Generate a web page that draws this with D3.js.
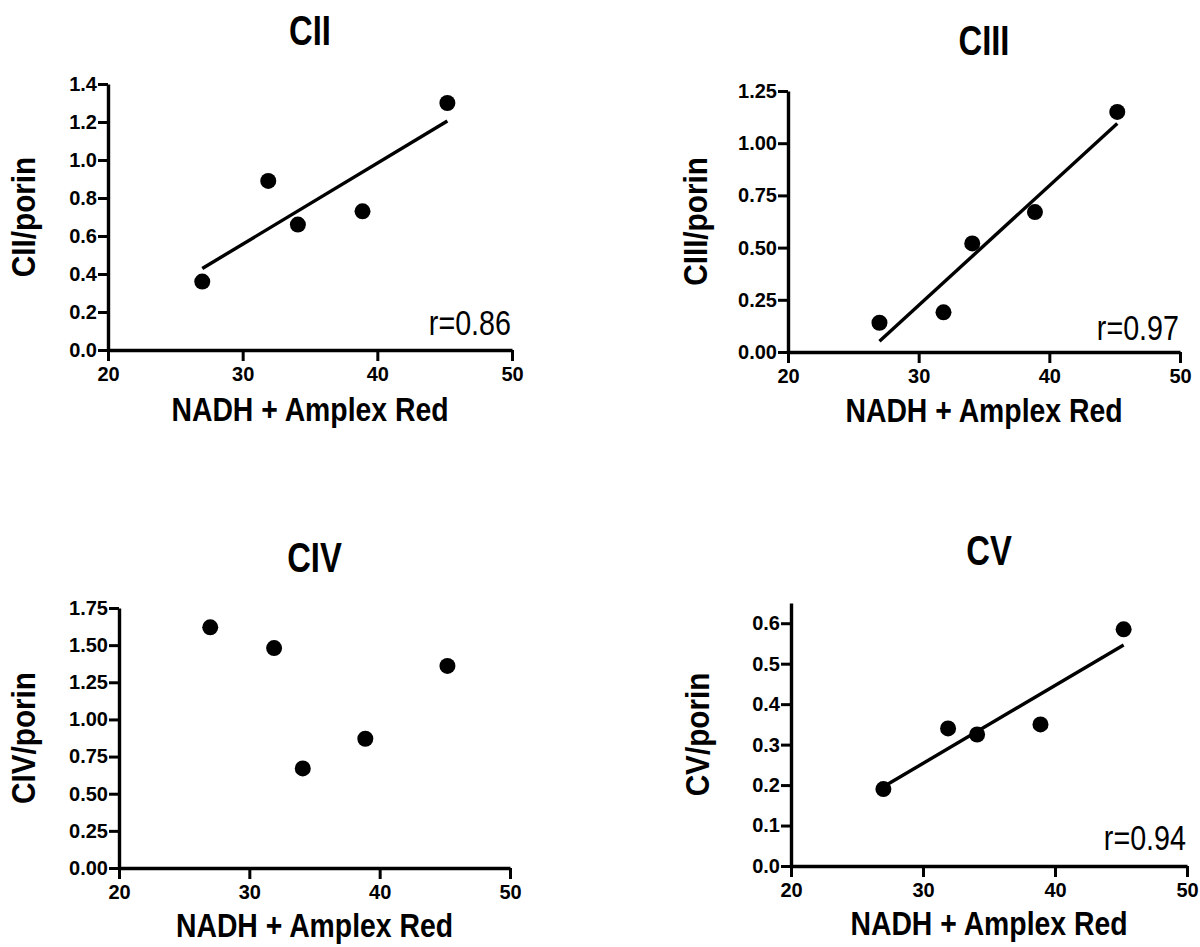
<!DOCTYPE html>
<html>
<head>
<meta charset="utf-8">
<script src="https://cdn.jsdelivr.net/npm/d3@7"></script>
<style>
  body { margin: 0; background: #fff; }
  svg { display: block; }
  text { font-family: "Liberation Sans", Arial, Helvetica, sans-serif; fill: #000; }
</style>
</head>
<body>
<svg id="chart" width="1200" height="947"></svg>
<script>
// x values shared by all four panels
const nadh = [27.0, 31.9, 34.1, 38.9, 45.2];

// complex / porin values
const cII  = [0.36, 0.89, 0.66, 0.73, 1.30];
const cIII = [0.14, 0.19, 0.52, 0.67, 1.15];
const cIV  = [1.62, 1.48, 0.67, 0.87, 1.36];
const cV   = [0.19, 0.34, 0.325, 0.35, 0.585];

const titles  = ["CII", "CIII", "CIV", "CV"];
const yLabels = ["CII/porin", "CIII/porin", "CIV/porin", "CV/porin"];
const rLabels = ["r=0.86", "r=0.97", null, "r=0.94"];
const xLabel  = "NADH + Amplex Red";

const xDomain = [20, 50];
const xTicks  = [20, 30, 40, 50];
const yDomains = [[0, 1.4], [0, 1.25], [0, 1.75], [0, 0.65]];
const yTicks = [
  [0, 0.2, 0.4, 0.6, 0.8, 1.0, 1.2, 1.4],
  [0, 0.25, 0.5, 0.75, 1.0, 1.25],
  [0, 0.25, 0.5, 0.75, 1.0, 1.25, 1.5, 1.75],
  [0, 0.1, 0.2, 0.3, 0.4, 0.5, 0.6]
];
const yFormats = [".1f", ".2f", ".2f", ".1f"];
const showFit  = [true, true, false, true];
const series   = [cII, cIII, cIV, cV];

// pixel layout of each panel (axis box + label anchors)
const layout = [
  { x0: 108, x1: 512, yTop: 84,  yBot: 350, titleY: 45,  xLabY: 421, yLabX: 35,  rY: 335 },
  { x0: 788, x1: 1180, yTop: 91, yBot: 352, titleY: 55,  xLabY: 422, yLabX: 707, rY: 340 },
  { x0: 119, x1: 510, yTop: 608, yBot: 868, titleY: 572, xLabY: 937, yLabX: 35,  rY: null },
  { x0: 791, x1: 1187, yTop: 603, yBot: 866, titleY: 565, xLabY: 935, yLabX: 709, rY: 850 }
];

const svg = d3.select("#chart");

function linFit(xs, ys) {
  const mx = d3.mean(xs), my = d3.mean(ys);
  let sxy = 0, sxx = 0;
  xs.forEach((x, i) => { sxy += (x - mx) * (ys[i] - my); sxx += (x - mx) * (x - mx); });
  const b = sxy / sxx;
  return { a: my - b * mx, b: b };
}

// condensed look: squeeze text horizontally
function label(g, x, y, str, size, bold, sx, anchor, rot) {
  return g.append("text")
    .attr("transform", `translate(${x},${y}) rotate(${rot || 0}) scale(${sx},1)`)
    .attr("text-anchor", anchor)
    .style("font-size", size + "px")
    .style("font-weight", bold ? "bold" : "normal")
    .text(str);
}

series.forEach((ys, i) => {
  const L = layout[i];
  const g = svg.append("g");

  const x = d3.scaleLinear().domain(xDomain).range([L.x0, L.x1]);
  const y = d3.scaleLinear().domain(yDomains[i]).range([L.yBot, L.yTop]);

  const xAxis = d3.axisBottom(x).tickValues(xTicks).tickSizeInner(11).tickSizeOuter(0).tickPadding(6)
    .tickFormat(d3.format("d"));
  const yAxis = d3.axisLeft(y).tickValues(yTicks[i]).tickSizeInner(10).tickSizeOuter(0).tickPadding(1)
    .tickFormat(d3.format(yFormats[i]));

  const gx = g.append("g").attr("transform", `translate(0,${L.yBot})`).call(xAxis);
  const gy = g.append("g").attr("transform", `translate(${L.x0},0)`).call(yAxis);

  [gx, gy].forEach(a => {
    a.select(".domain").attr("stroke", "#000").attr("stroke-width", 3.4);
    a.selectAll(".tick line").attr("stroke", "#000").attr("stroke-width", 3);
    a.selectAll(".tick text")
      .attr("fill", "#000")
      .style("font-size", "20px")
      .style("font-weight", "bold");
  });

  // regression line across the data range
  if (showFit[i]) {
    const fit = linFit(nadh, ys);
    const ext = d3.extent(nadh);
    g.append("line")
      .attr("x1", x(ext[0])).attr("y1", y(fit.a + fit.b * ext[0]))
      .attr("x2", x(ext[1])).attr("y2", y(fit.a + fit.b * ext[1]))
      .attr("stroke", "#000").attr("stroke-width", 3.4);
  }

  g.selectAll("circle.pt")
    .data(nadh.map((v, k) => [v, ys[k]]))
    .join("circle")
    .attr("class", "pt")
    .attr("cx", d => x(d[0]))
    .attr("cy", d => y(d[1]))
    .attr("r", 8)
    .attr("fill", "#000");

  const cx = (L.x0 + L.x1) / 2;
  label(g, cx, L.titleY, titles[i], 42, true, 0.78, "middle");
  label(g, cx, L.xLabY, xLabel, 33, true, 0.86, "middle");
  label(g, L.yLabX, (L.yTop + L.yBot) / 2, yLabels[i], 33, true, 0.9, "middle", -90);
  if (rLabels[i]) label(g, L.x1 - 1, L.rY, rLabels[i], 35, false, 0.82, "end");
});
</script>
</body>
</html>
